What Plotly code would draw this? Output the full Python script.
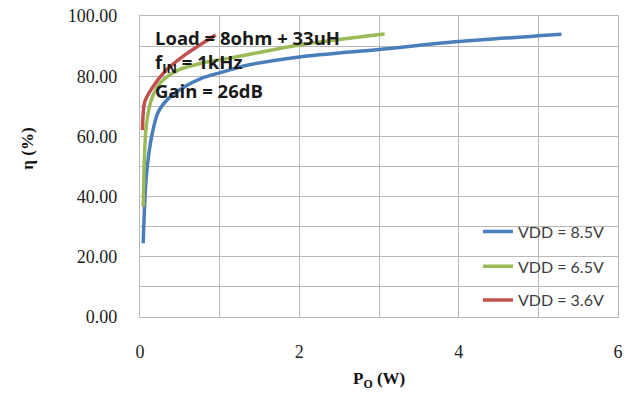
import plotly.graph_objects as go

# Data
po_85 = [0.04, 0.08, 0.15, 0.23, 0.36, 0.56, 0.77, 1.05, 1.3, 2.0, 3.0, 4.0, 5.0, 5.29]
eff_85 = [24.5, 47.0, 60.5, 68.2, 72.7, 76.5, 79.3, 81.5, 83.4, 86.4, 88.9, 91.5, 93.4, 93.9]

po_65 = [0.04, 0.08, 0.15, 0.27, 0.48, 0.77, 1.13, 2.0, 3.07]
eff_65 = [36.6, 63.8, 72.7, 78.2, 82.0, 84.3, 86.0, 90.4, 94.0]

po_36 = [0.03, 0.06, 0.15, 0.31, 0.56, 0.95]
eff_36 = [62.1, 71.5, 76.0, 81.5, 87.0, 93.7]

series_names = ["VDD = 8.5V", "VDD = 6.5V", "VDD = 3.6V"]
series_colors = ["#4A7EBB", "#9BBB59", "#C0504D"]
x_range = [0, 6]
y_range = [0, 100]
x_tick_step = 2
y_tick_step = 20
x_grid_step = 1
y_grid_step = 10
notes = ["Load = 8ohm + 33uH", "f<sub>IN</sub> = 1kHz", "Gain = 26dB"]

fig = go.Figure()

serif = "Liberation Serif, Times New Roman, serif"
sans = "Open Sans, Lato, sans-serif"
grid_color = "#b8b8b8"

data = [(po_85, eff_85), (po_65, eff_65), (po_36, eff_36)]
legends = ["legend", "legend2", "legend3"]
for (xs, ys), name, color, lg in zip(data, series_names, series_colors, legends):
    fig.add_trace(go.Scatter(
        x=xs, y=ys, mode="lines", name=name, legend=lg,
        line=dict(color=color, width=3.5, shape="spline", smoothing=0.8),
    ))

leg_common = dict(bgcolor="rgba(0,0,0,0)", font=dict(family="Lato, sans-serif", size=16, color="#404040"),
                  xanchor="left", yanchor="middle", x=0.707)
fig.update_layout(
    template="none",
    width=642, height=394,
    margin=dict(l=140, r=24, t=16, b=77),
    paper_bgcolor="white", plot_bgcolor="white",
    showlegend=True,
    legend=dict(**leg_common, y=0.284),
    legend2=dict(**leg_common, y=0.168),
    legend3=dict(**leg_common, y=0.056),
    xaxis=dict(
        range=x_range, tickmode="linear", tick0=0, dtick=x_tick_step,
        showgrid=True, gridcolor=grid_color, gridwidth=1.4,
        minor=dict(dtick=x_grid_step, showgrid=True, gridcolor=grid_color, gridwidth=1.4),
        showline=True, linecolor=grid_color, linewidth=1.4, mirror=True, zeroline=False,
        ticks="outside", ticklen=18, tickcolor="rgba(0,0,0,0)",
        tickfont=dict(family=serif, size=18, color="#222222"),
        layer="below traces",
    ),
    yaxis=dict(
        range=y_range, tickmode="linear", tick0=0, dtick=y_tick_step, tickformat=".2f",
        showgrid=True, gridcolor=grid_color, gridwidth=1.4,
        minor=dict(dtick=y_grid_step, showgrid=True, gridcolor=grid_color, gridwidth=1.4),
        showline=True, linecolor=grid_color, linewidth=1.4, mirror=True, zeroline=False,
        ticks="outside", ticklen=18, tickcolor="rgba(0,0,0,0)",
        tickfont=dict(family=serif, size=18, color="#222222"),
        layer="below traces",
    ),
)

note_y = [0.927, 0.844, 0.751]
for t, yy in zip(notes, note_y):
    fig.add_annotation(text="<b>" + t + "</b>", xref="paper", yref="paper", x=0.027, y=yy,
                       xanchor="left", yanchor="middle", showarrow=False,
                       font=dict(family=sans, size=18.5, color="#1a1a1a"))

fig.add_annotation(text="<b>P<sub>O</sub> (W)</b>", xref="paper", yref="paper", x=0.5, y=-0.209,
                   xanchor="center", yanchor="middle", showarrow=False,
                   font=dict(family=serif, size=17, color="#111111"))
fig.add_annotation(text="<b>η (%)</b>", xref="paper", yref="paper", x=-0.236, y=0.56,
                   xanchor="center", yanchor="middle", textangle=-90, showarrow=False,
                   font=dict(family=serif, size=17, color="#111111"))

fig.write_html("out.html")
